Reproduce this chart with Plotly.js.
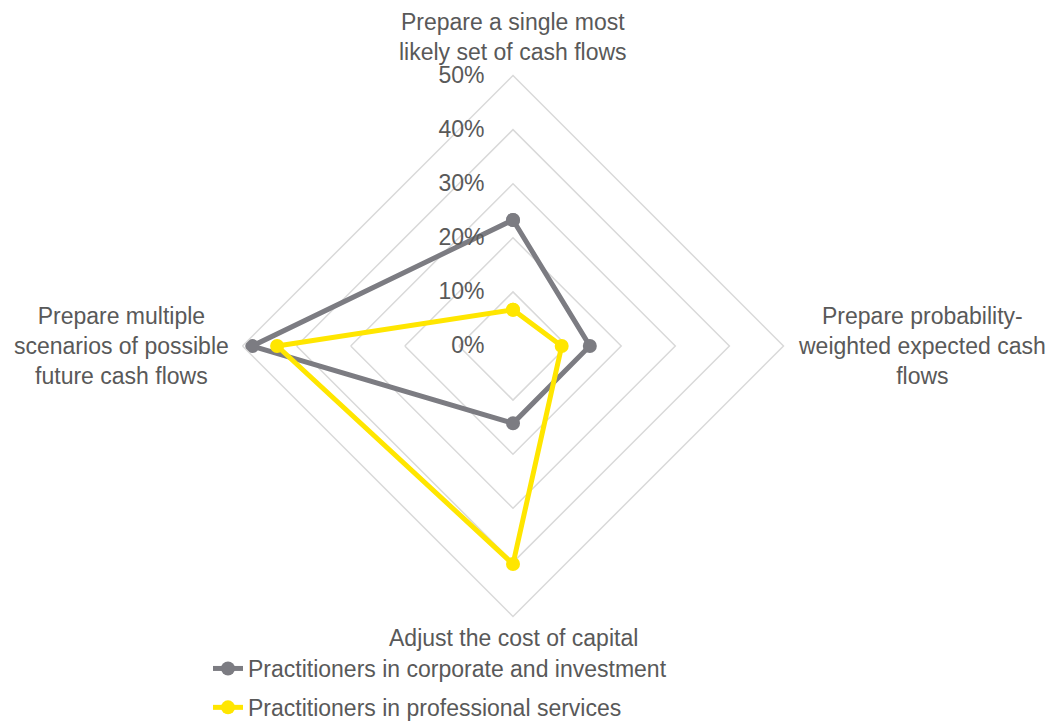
<!DOCTYPE html>
<html>
<head>
<meta charset="utf-8">
<script src="https://cdn.plot.ly/plotly-3.0.1.min.js"></script>
<style>html,body{margin:0;padding:0;background:#fff;overflow:hidden;}#chart{width:1052px;height:760px;}</style>
</head>
<body>
<div id="chart"></div>
<script>
const categories = [
  "Prepare a single most likely set of cash flows",
  "Prepare probability-weighted expected cash flows",
  "Adjust the cost of capital",
  "Prepare multiple scenarios of possible future cash flows"
];
const categoryLabels = [
  "Prepare a single most<br>likely set of cash flows",
  "Prepare probability-<br>weighted expected cash<br>flows",
  "Adjust the cost of capital",
  "Prepare multiple<br>scenarios of possible<br>future cash flows"
];
const seriesNames = [
  "Practitioners in corporate and investment",
  "Practitioners in professional services"
];
const corporateValues = [23.3, 14.2, 14.3, 48.2];
const professionalValues = [6.7, 9.0, 40.3, 43.6];
const radialTicks = [0, 10, 20, 30, 40, 50];
const radialTickLabels = ["0%", "10%", "20%", "30%", "40%", "50%"];

const W = 1052, H = 760;
const cx = 513, cy = 346, R = 270.5;
const textColor = "#595959";
const fontFamily = "Liberation Sans, Arial, sans-serif";
const fs = 23;

function closed(a) { return a.concat([a[0]]); }

const traces = [
  {
    type: "scatterpolar", mode: "lines+markers",
    name: seriesNames[0], legendgroup: "a",
    r: closed(corporateValues), theta: closed(categories),
    line: {color: "#7c7c82", width: 5},
    marker: {color: "#7c7c82", size: 14},
    cliponaxis: false
  },
  {
    type: "scatterpolar", mode: "lines+markers",
    name: seriesNames[1], legendgroup: "b",
    r: closed(professionalValues), theta: closed(categories),
    line: {color: "#FFE600", width: 5},
    marker: {color: "#FFE600", size: 14},
    cliponaxis: false
  }
];

const labelPos = [
  {x: 513, y: 37},
  {x: 922, y: 346},
  {x: 513, y: 638},
  {x: 121, y: 346}
];
const annotations = categoryLabels.map((t, i) => ({
  xref: "paper", yref: "paper",
  x: labelPos[i].x / W, y: 1 - labelPos[i].y / H,
  xanchor: "center", yanchor: "middle",
  text: t, showarrow: false, align: "center",
  font: {family: fontFamily, size: fs, color: textColor}
}));

const layout = {
  width: W, height: H,
  margin: {l: 0, r: 0, t: 0, b: 0},
  paper_bgcolor: "#ffffff",
  font: {family: fontFamily, size: fs, color: textColor},
  showlegend: true,
  legend: {
    x: 208 / W, y: 1 - 647 / H, xanchor: "left", yanchor: "top",
    orientation: "v", traceorder: "grouped", tracegroupgap: 6,
    font: {family: fontFamily, size: fs, color: textColor},
    bgcolor: "rgba(0,0,0,0)"
  },
  polar: {
    domain: {x: [(cx - R) / W, (cx + R) / W], y: [(H - cy - R) / H, (H - cy + R) / H]},
    gridshape: "linear",
    bgcolor: "#ffffff",
    radialaxis: {
      range: [0, 50], tickvals: radialTicks, ticktext: radialTickLabels,
      angle: 90, tickangle: 90, side: "counterclockwise",
      showline: false, showgrid: true, gridcolor: "#d9d9d9", gridwidth: 1.5,
      ticks: "outside", ticklen: 20, tickcolor: "rgba(0,0,0,0)",
      tickfont: {family: fontFamily, size: fs, color: textColor}
    },
    angularaxis: {
      rotation: 90, direction: "clockwise",
      categoryorder: "array", categoryarray: categories,
      showgrid: false, showticklabels: false, ticks: "",
      showline: true, linecolor: "#d9d9d9", linewidth: 1.5
    }
  },
  annotations: annotations
};

Plotly.newPlot("chart", traces, layout, {displayModeBar: false, staticPlot: true});
</script>
</body>
</html>
